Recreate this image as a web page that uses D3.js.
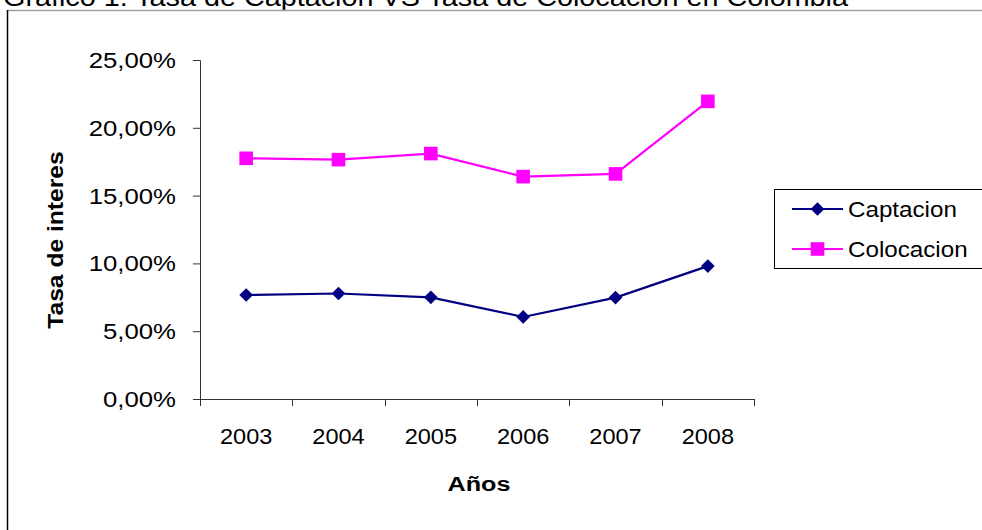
<!DOCTYPE html>
<html>
<head>
<meta charset="utf-8">
<script src="https://cdn.jsdelivr.net/npm/d3@7"></script>
<style>
  body { margin: 0; background: #fff; }
  svg { display: block; font-family: "Liberation Sans", Arial, sans-serif; }
</style>
</head>
<body>
<div id="chart"></div>
<script>
// data
var years = ["2003", "2004", "2005", "2006", "2007", "2008"];
var captacion = [0.0767, 0.0778, 0.0750, 0.0605, 0.0748, 0.0980];
var colocacion = [0.1775, 0.1765, 0.1810, 0.1640, 0.1660, 0.2195];
var yTicks = [0, 0.05, 0.10, 0.15, 0.20, 0.25];
var seriesNames = ["Captacion", "Colocacion"];

var width = 982, height = 530;
var navy = "#000080", magenta = "#ff00ff";

var pct = function(v) { return d3.format(".2f")(v * 100).replace(".", ",") + "%"; };

var svg = d3.select("#chart")
    .append("svg")
    .attr("width", width)
    .attr("height", height);

// text drawn a bit wider than the font, like the source picture
function wideText(parent, tx, ty, sx, str) {
    return parent.append("text")
        .attr("transform", "translate(" + tx + "," + ty + ") scale(" + sx + ",1)")
        .attr("fill", "#000")
        .text(str);
}

// title, cut off at the top as in the picture
svg.append("text")
    .attr("x", 3)
    .attr("y", 6)
    .attr("font-size", "25px")
    .attr("fill", "#000")
    .attr("textLength", 845)
    .attr("lengthAdjust", "spacingAndGlyphs")
    .text("Grafico 1. Tasa de Captacion VS Tasa de Colocacion en Colombia");

// frame
svg.append("line")
    .attr("x1", 7).attr("x2", width).attr("y1", 10.5).attr("y2", 10.5)
    .attr("stroke", "#a0a0a0").attr("stroke-width", 1.5);
svg.append("line")
    .attr("x1", 7.5).attr("x2", 7.5).attr("y1", 10).attr("y2", height)
    .attr("stroke", "#000").attr("stroke-width", 1.5);

var x = d3.scaleBand()
    .domain(years)
    .range([200, 754]);

var y = d3.scaleLinear()
    .domain([0, 0.25])
    .range([399, 60]);

// y axis
var yAxis = svg.append("g")
    .attr("transform", "translate(200,0)")
    .call(d3.axisLeft(y).tickValues(yTicks).tickFormat("").tickSize(7));
yAxis.select(".domain").attr("stroke", "#333");
yAxis.selectAll(".tick line").attr("stroke", "#333");
yTicks.forEach(function(t) {
    wideText(svg, 176, y(t) + 8, 1.17, pct(t))
        .attr("font-size", "22px")
        .attr("text-anchor", "end");
});

// x axis: ticks at band edges
var xAxis = svg.append("g")
    .attr("transform", "translate(0,399)");
xAxis.append("line")
    .attr("x1", 200).attr("x2", 754).attr("y1", 0.5).attr("y2", 0.5)
    .attr("stroke", "#333");
var edges = years.map(function(d) { return x(d); }).concat([x.range()[1]]);
xAxis.selectAll(".edge")
    .data(edges)
    .enter()
    .append("line")
    .attr("class", "edge")
    .attr("x1", function(d) { return Math.round(d) + 0.5; })
    .attr("x2", function(d) { return Math.round(d) + 0.5; })
    .attr("y1", 0).attr("y2", 7)
    .attr("stroke", "#333");
years.forEach(function(d) {
    wideText(svg, x(d) + x.bandwidth() / 2, 444, 1.07, d)
        .attr("font-size", "22px")
        .attr("text-anchor", "middle");
});

// axis titles
svg.append("text")
    .attr("transform", "translate(63,240) rotate(-90) scale(1.12,1)")
    .attr("text-anchor", "middle")
    .attr("font-size", "22px")
    .attr("font-weight", "bold")
    .text("Tasa de interes");

wideText(svg, 479, 491, 1.2, "Años")
    .attr("font-size", "21px")
    .attr("font-weight", "bold")
    .attr("text-anchor", "middle");

// lines
var line = d3.line()
    .x(function(d, i) { return x(years[i]) + x.bandwidth() / 2; })
    .y(function(d) { return y(d); });

var diamond = d3.symbol().type(d3.symbolDiamond2).size(120);
var square = d3.symbol().type(d3.symbolSquare).size(185);

function drawSeries(values, color, sym) {
    svg.append("path")
        .datum(values)
        .attr("d", line)
        .attr("fill", "none")
        .attr("stroke", color)
        .attr("stroke-width", 2.2);
    svg.selectAll(null)
        .data(values)
        .enter()
        .append("path")
        .attr("transform", function(d, i) {
            return "translate(" + (x(years[i]) + x.bandwidth() / 2) + "," + y(d) + ")";
        })
        .attr("d", sym)
        .attr("fill", color);
}
drawSeries(colocacion, magenta, square);
drawSeries(captacion, navy, diamond);

// legend
var legend = svg.append("g");
legend.append("rect")
    .attr("x", 774.5).attr("y", 189.5)
    .attr("width", 220).attr("height", 79)
    .attr("fill", "#fff")
    .attr("stroke", "#000");

seriesNames.forEach(function(name, i) {
    var cy = 209 + i * 40;
    var color = i ? magenta : navy;
    legend.append("line")
        .attr("x1", 792).attr("x2", 843).attr("y1", cy).attr("y2", cy)
        .attr("stroke", color)
        .attr("stroke-width", 2.2);
    legend.append("path")
        .attr("transform", "translate(817.5," + cy + ")")
        .attr("d", i ? square() : diamond())
        .attr("fill", color);
    wideText(legend, 848, cy + 8, 1.1, name)
        .attr("font-size", "22px");
});
</script>
</body>
</html>
